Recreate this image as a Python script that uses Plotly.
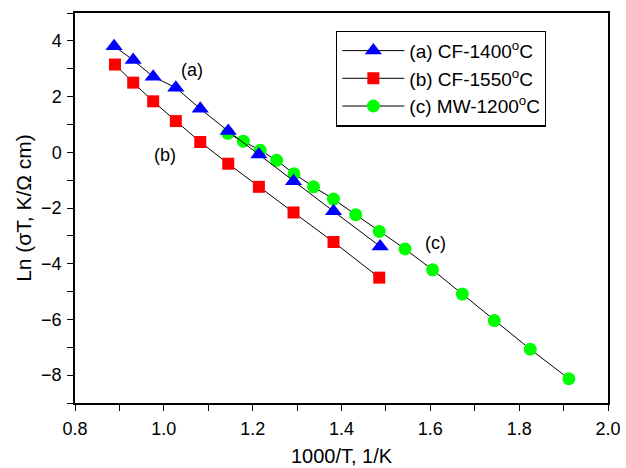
import plotly.graph_objects as go

# Series (a) CF-1400°C
x_a = [0.888, 0.931, 0.976, 1.027, 1.082, 1.145, 1.214, 1.292, 1.382, 1.487]
y_a = [3.81, 3.31, 2.71, 2.32, 1.56, 0.76, -0.08, -1.04, -2.12, -3.38]

# Series (b) CF-1550°C
x_b = [0.890, 0.931, 0.976, 1.027, 1.082, 1.145, 1.214, 1.292, 1.382, 1.485]
y_b = [3.15, 2.50, 1.83, 1.12, 0.37, -0.41, -1.24, -2.16, -3.22, -4.50]

# Series (c) MW-1200°C
x_c = [1.144, 1.179, 1.217, 1.254, 1.293, 1.337, 1.382, 1.432, 1.485, 1.543,
       1.605, 1.672, 1.744, 1.825, 1.912]
y_c = [0.68, 0.40, 0.07, -0.29, -0.77, -1.24, -1.68, -2.24, -2.84, -3.47,
       -4.22, -5.09, -6.04, -7.07, -8.13]

names = ["(a) CF-1400<sup>o</sup>C", "(b) CF-1550<sup>o</sup>C", "(c) MW-1200<sup>o</sup>C"]
labels = ["(a)", "(b)", "(c)"]
label_x = [1.063, 1.003, 1.611]
label_y = [2.97, -0.08, -3.26]

FONT = "Liberation Sans, Arial, Helvetica, sans-serif"

fig = go.Figure()
fig.add_trace(go.Scatter(x=x_c, y=y_c, mode="lines+markers", name=names[2], legendrank=3,
                         line=dict(color="black", width=1),
                         marker=dict(symbol="circle", size=13, color="#00FF00")))
fig.add_trace(go.Scatter(x=x_b, y=y_b, mode="lines+markers", name=names[1], legendrank=2,
                         line=dict(color="black", width=1),
                         marker=dict(symbol="square", size=12, color="#FF0000")))
fig.add_trace(go.Scatter(x=x_a, y=y_a, mode="lines+markers", name=names[0], legendrank=1,
                         line=dict(color="black", width=1),
                         marker=dict(symbol="triangle-up", size=15, color="#0000FF")))

for t, lx, ly in zip(labels, label_x, label_y):
    fig.add_annotation(x=lx, y=ly, text=t, showarrow=False,
                       font=dict(family=FONT, size=18, color="black"))

axis_common = dict(showline=True, linecolor="black", linewidth=1.5, mirror=True,
                   ticks="outside", ticklen=6, tickwidth=1.2, tickcolor="black",
                   showgrid=False, zeroline=False, automargin=False,
                   tickfont=dict(family=FONT, size=18, color="black"))

fig.update_xaxes(range=[0.8, 2.0], dtick=0.2, tickformat=".1f",
                 minor=dict(ticks="outside", dtick=0.1, ticklen=6, tickcolor="black", tickwidth=1.2),
                 title=dict(text="1000/T, 1/K", standoff=11,
                            font=dict(family=FONT, size=20, color="black")),
                 ticklabelstandoff=3,
                 **axis_common)
fig.update_yaxes(range=[-9, 5], dtick=2, tick0=0,
                 minor=dict(ticks="outside", dtick=1, ticklen=6, tickcolor="black", tickwidth=1.2),
                 title=dict(text="Ln (σT, K/Ω cm)", standoff=4,
                            font=dict(family=FONT, size=21, color="black")),
                 ticklabelstandoff=2,
                 **axis_common)

fig.update_layout(
    width=626, height=468,
    margin=dict(l=75, r=18, t=13, b=65),
    plot_bgcolor="white", paper_bgcolor="white",
    font=dict(family=FONT, size=18, color="black"),
    legend=dict(x=0.49, y=0.955, xanchor="left", yanchor="top",
                bordercolor="black", borderwidth=1.2, bgcolor="white",
                font=dict(family=FONT, size=19, color="black"),
                itemwidth=62),
    showlegend=True,
)

fig.write_html("out.html", config={"displayModeBar": False},
               post_script="document.body.style.margin='0';document.body.style.overflow='hidden';")
